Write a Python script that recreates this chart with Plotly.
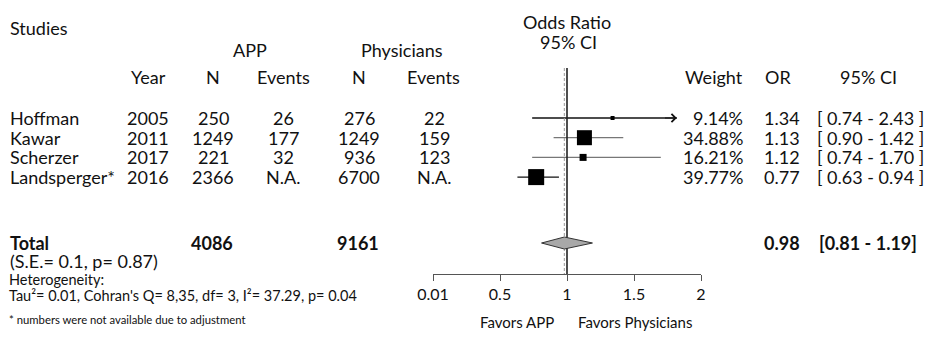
import plotly.graph_objects as go

# ---- study data ----
studies = ["Hoffman", "Kawar", "Scherzer", "Landsperger*"]
years = [2005, 2011, 2017, 2016]
app_n = [250, 1249, 221, 2366]
app_events = ["26", "177", "32", "N.A."]
phys_n = [276, 1249, 936, 6700]
phys_events = ["22", "159", "123", "N.A."]
weights = [9.14, 34.88, 16.21, 39.77]
odds = [1.34, 1.13, 1.12, 0.77]
ci_low = [0.74, 0.90, 0.74, 0.63]
ci_high = [2.43, 1.42, 1.70, 0.94]

total_app = 4086
total_phys = 9161
pooled_or = 0.98
pooled_low = 0.81
pooled_high = 1.19

tick_vals = [0, 0.5, 1, 1.5, 2]
tick_text = ["0.01", "0.5", "1", "1.5", "2"]

# ---- styling / layout constants ----
W, H = 933, 354
FONT = "Lato"
TXT = "#111"
marker_px = [4, 15, 7, 16]
line_colors = ["#111", "#777", "#777", "#111"]
arrow_cap = 1.82          # CI drawn past this point is truncated with an arrow
row_top, row_step = 118, 19.7
total_y = 243
axis_y = 274
ref_top = 68
plot_left, plot_right = 433, 701
row_y = [row_top + i * row_step for i in range(len(studies))]

fig = go.Figure()

# confidence-interval whiskers
for i in range(len(studies)):
    hi = min(ci_high[i], arrow_cap)
    fig.add_trace(go.Scatter(
        x=[ci_low[i], hi], y=[row_y[i], row_y[i]], mode="lines",
        line=dict(color=line_colors[i], width=1.3), hoverinfo="skip"))

# reference line of no effect and pooled estimate
fig.add_trace(go.Scatter(x=[1, 1], y=[ref_top, axis_y], mode="lines",
                         line=dict(color="#222", width=1.6), hoverinfo="skip"))
fig.add_trace(go.Scatter(x=[pooled_or, pooled_or], y=[ref_top, axis_y], mode="lines",
                         line=dict(color="#999", width=1, dash="3px,2px"), hoverinfo="skip"))

# study point estimates
fig.add_trace(go.Scatter(
    x=odds, y=row_y, mode="markers",
    marker=dict(symbol="square", size=marker_px, color="#000", opacity=1,
                line=dict(width=0)), hoverinfo="skip"))

# pooled diamond
dh = 6
fig.add_trace(go.Scatter(
    x=[pooled_low, pooled_or, pooled_high, pooled_or, pooled_low],
    y=[total_y, total_y - dh, total_y, total_y + dh, total_y],
    mode="lines", fill="toself", fillcolor="#a8a8a8",
    line=dict(color="#333", width=1), hoverinfo="skip"))

annotations = []

# arrow for truncated interval
for i in range(len(studies)):
    if ci_high[i] > arrow_cap:
        annotations.append(dict(
            x=arrow_cap, y=row_y[i], ax=arrow_cap - 0.1, ay=row_y[i],
            xref="x", yref="y", axref="x", ayref="y", text="",
            showarrow=True, arrowhead=4, arrowsize=1.6, arrowwidth=1,
            arrowcolor="#111"))


def txt(x, y, s, anchor="left", size=18, bold=False, color=TXT):
    annotations.append(dict(
        x=x / W, y=y, xref="paper", yref="y", text=f"<b>{s}</b>" if bold else s,
        showarrow=False, xanchor=anchor, yanchor="middle",
        font=dict(family=FONT, size=size, color=color)))


# headers
txt(8, 28, "Studies")
txt(250, 50, "APP", "center")
txt(402, 50, "Physicians", "center")
txt(148, 77, "Year", "center")
txt(213, 77, "N", "center")
txt(283, 77, "Events", "center")
txt(359, 77, "N", "center")
txt(433, 77, "Events", "center")
txt(567, 22, "Odds Ratio", "center")
txt(568, 42, "95% CI", "center")
txt(745, 77, "Weight", "right")
txt(778, 77, "OR", "center")
txt(868, 77, "95% CI", "center")

# study rows
for i, name in enumerate(studies):
    y = row_y[i]
    txt(8, y, name)
    txt(148, y, str(years[i]), "center")
    txt(213, y, str(app_n[i]), "center")
    txt(283, y, app_events[i], "center")
    txt(359, y, str(phys_n[i]), "center")
    txt(434, y, phys_events[i], "center")
    txt(745, y, f"{weights[i]:.2f}%", "right")
    txt(782, y, f"{odds[i]:.2f}", "center")
    txt(815, y, f"[ {ci_low[i]:.2f} - {ci_high[i]:.2f} ]")

# totals
txt(8, total_y, "Total", bold=True)
txt(212, total_y, str(total_app), "center", bold=True)
txt(358, total_y, str(total_phys), "center", bold=True)
txt(782, total_y, f"{pooled_or:.2f}", "center", bold=True)
txt(817, total_y, f"[{pooled_low:.2f} - {pooled_high:.2f}]", bold=True)
txt(8, 261, "(S.E.= 0.1, p= 0.87)")
txt(7, 279, "Heterogeneity:", size=14.5)
txt(7, 295, "Tau²= 0.01, Cohran's Q= 8,35, df= 3, I²= 37.29, p= 0.04", size=14.5)
txt(7, 319, "* numbers were not available due to adjustment", size=11.3)

# favours labels
txt(517, 322, "Favors APP", "center", size=15)
txt(635, 322, "Favors Physicians", "center", size=15)

fig.update_layout(
    width=W, height=H,
    margin=dict(l=0, r=0, t=0, b=0, pad=0, autoexpand=False),
    paper_bgcolor="white", plot_bgcolor="white", showlegend=False,
    annotations=annotations,
    xaxis=dict(domain=[plot_left / W, plot_right / W], range=[0, 2],
               anchor="free", position=1 - axis_y / H, automargin=False,
               showline=True, linecolor="#555", linewidth=1.3,
               ticks="outside", ticklen=6, tickcolor="#555", tickwidth=1.3,
               tickvals=tick_vals, ticktext=tick_text, showgrid=False,
               zeroline=False, tickfont=dict(family=FONT, size=16, color=TXT)),
    yaxis=dict(domain=[0, 1], range=[H, 0], visible=False, showgrid=False,
               zeroline=False, automargin=False),
)

fig.write_html("out.html")
